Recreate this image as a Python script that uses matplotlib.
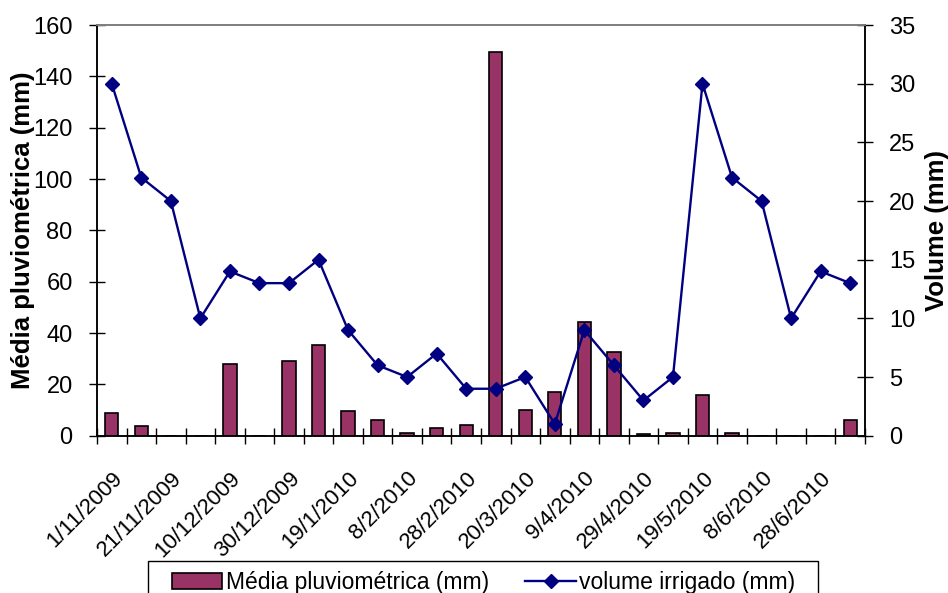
import numpy as np
import matplotlib
matplotlib.use("Agg")
import matplotlib.pyplot as plt
from matplotlib.transforms import ScaledTranslation
from matplotlib.patches import Rectangle

plt.rcParams['font.family'] = ['Liberation Sans', 'DejaVu Sans']

# rainfall (left axis) and irrigation volume (right axis), one value per category
chuva = [8.7, 3.9, 0, 0, 27.8, 0, 29.2, 35.3, 9.6, 6.0, 1.2, 2.9, 4.2,
         149.4, 10.0, 17.1, 44.2, 32.7, 0.5, 1.0, 15.7, 1.0, 0, 0, 0, 6.0]
volume = [30, 22, 20, 10, 14, 13, 13, 15, 9, 6, 5, 7, 4,
          4, 5, 1, 9, 6, 3, 5, 30, 22, 20, 10, 14, 13]
datas = ['1/11/2009', '21/11/2009', '10/12/2009', '30/12/2009', '19/1/2010',
         '8/2/2010', '28/2/2010', '20/3/2010', '9/4/2010', '29/4/2010',
         '19/5/2010', '8/6/2010', '28/6/2010']

x = np.arange(len(chuva))

fig = plt.figure(figsize=(9.48, 5.93), dpi=100)
ax = fig.add_axes([0.1023, 0.2653, 0.8101, 0.6925])
ax2 = ax.twinx()

b = ax.bar(x, chuva, width=0.45, color='#993366', edgecolor='black', linewidth=1.2,
           label='Média pluviométrica (mm)', zorder=2)
l, = ax2.plot(x, volume, color='#000080', lw=1.7, marker='D', ms=7,
              label='volume irrigado (mm)')

ax.set_xlim(-0.5, len(chuva) - 0.5)
ax.set_ylim(0, 160)
ax.set_yticks(np.arange(0, 161, 20))
ax2.set_ylim(0, 35)
ax2.set_yticks(np.arange(0, 36, 5))

ax.set_xticks(x[::2])
ax.set_xticklabels(datas, rotation=45, ha='right', va='top', rotation_mode='anchor')
ax.set_xticks(np.arange(-0.5, len(chuva)), minor=True)
ax.tick_params(axis='x', which='major', length=0, pad=18, labelsize=16)
ax.tick_params(axis='x', which='minor', direction='inout', length=11, width=1)
ax.tick_params(axis='y', direction='inout', length=11, width=1, labelsize=17, pad=12)
ax2.tick_params(axis='y', direction='inout', length=11, width=1, labelsize=17, pad=12)
shift = ScaledTranslation(0, -7 / 100, fig.dpi_scale_trans)
for t in ax.get_xticklabels():
    t.set_transform(t.get_transform() + shift)

ax.set_ylabel('Média pluviométrica (mm)', fontsize=18.5, fontweight='bold')
ax.yaxis.set_label_coords(-0.081, 0.5)
ax2.set_ylabel('Volume (mm)', fontsize=18.5, fontweight='bold')
ax2.yaxis.set_label_coords(1.078, 0.5)

for a in (ax, ax2):
    a.spines['top'].set_color('#808080')
    a.spines['top'].set_linewidth(1.3)
    for s in ('left', 'right', 'bottom'):
        a.spines[s].set_color('black')
        a.spines[s].set_linewidth(1.1)

leg = fig.legend([b, l], ['Média pluviométrica (mm)', 'volume irrigado (mm)'],
                 loc='upper center', bbox_to_anchor=(0.51, 1 - 561 / 593), ncol=2,
                 fontsize=16.5, frameon=False,
                 handlelength=2.2, handletextpad=0.15, columnspacing=1.6,
                 borderpad=0.45, borderaxespad=0)
# legend box drawn by hand: wider side margins than the legend pads allow
fig.patches.append(Rectangle((148 / 948, -0.05), 670 / 948, 0.05 + 32 / 593,
                             transform=fig.transFigure, fill=False,
                             edgecolor='black', linewidth=1))

fig.savefig('out.png', dpi=100)
